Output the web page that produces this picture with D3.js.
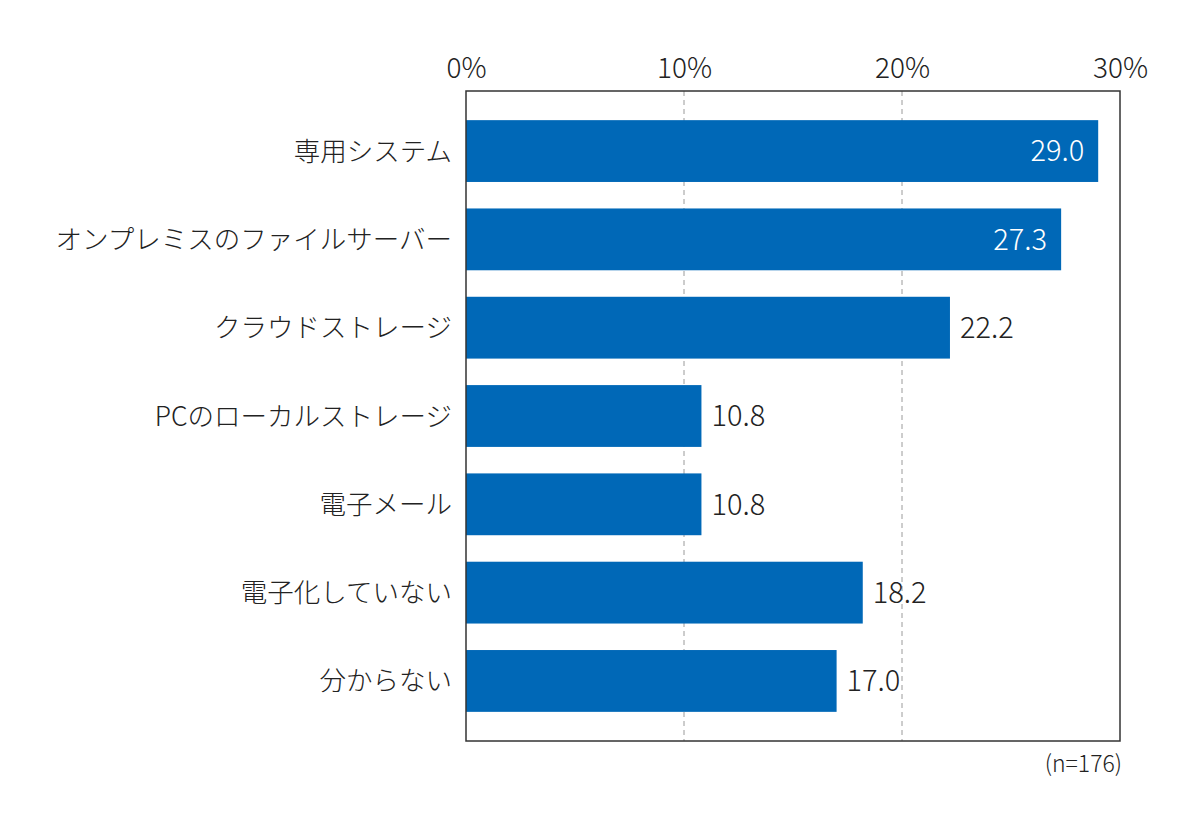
<!DOCTYPE html>
<html>
<head>
<meta charset="utf-8">
<script src="https://cdn.jsdelivr.net/npm/d3@7"></script>
<style>
  body { margin: 0; background: #fff; }
  svg text { font-family: "Noto Sans CJK JP", "Noto Sans", sans-serif; }
</style>
</head>
<body>
<svg id="chart" width="1200" height="830"></svg>
<script>
const categories = ['専用システム', 'オンプレミスのファイルサーバー', 'クラウドストレージ', 'PCのローカルストレージ', '電子メール', '電子化していない', '分からない'];
const values = [29.0, 27.3, 22.2, 10.8, 10.8, 18.2, 17.0];
const ticks = [0, 10, 20, 30];
const note = '(n=176)';

const svg = d3.select('#chart');
const margin = { top: 91, right: 80, bottom: 89, left: 466 };
const width = 1200 - margin.left - margin.right;
const height = 830 - margin.top - margin.bottom;
const barColor = '#0068b7';

const x = d3.scaleLinear().domain([0, 30]).range([0, width]);
const y = d3.scaleBand().domain(categories).range([0, height]).paddingInner(0.3).paddingOuter(0.33);

const g = svg.append('g').attr('transform', `translate(${margin.left},${margin.top})`);

// dashed grid lines
g.selectAll('line.grid')
  .data(ticks.filter(t => t > 0 && t < 30))
  .enter()
  .append('line')
  .attr('class', 'grid')
  .attr('x1', d => x(d))
  .attr('x2', d => x(d))
  .attr('y1', 0)
  .attr('y2', height)
  .attr('stroke', '#9a9a9a')
  .attr('stroke-width', 1)
  .attr('stroke-dasharray', '5,4');

// bars
g.selectAll('rect.bar')
  .data(values)
  .enter()
  .append('rect')
  .attr('class', 'bar')
  .attr('x', 0)
  .attr('y', (d, i) => y(categories[i]))
  .attr('width', d => x(d))
  .attr('height', y.bandwidth())
  .attr('fill', barColor);

// value labels, inside the bar when long enough
g.selectAll('text.value')
  .data(values)
  .enter()
  .append('text')
  .attr('class', 'value')
  .attr('x', d => (d > 25 ? x(d) - 14 : x(d) + 10))
  .attr('y', (d, i) => y(categories[i]) + y.bandwidth() / 2)
  .attr('dy', '0.36em')
  .attr('text-anchor', d => (d > 25 ? 'end' : 'start'))
  .attr('fill', d => (d > 25 ? '#fff' : '#222'))
  .style('font-size', '29px')
  .style('font-weight', 300)
  .text(d => d.toFixed(1));

// category labels
const yAxis = g.append('g').call(d3.axisLeft(y).tickSize(0).tickPadding(14));
yAxis.select('.domain').remove();
yAxis.selectAll('text')
  .attr('fill', '#222')
  .attr('dy', '0.36em')
  .style('font-size', '26.5px')
  .style('font-weight', 300)
  .style('font-family', '"Noto Sans CJK JP", sans-serif');

// top tick labels
const xAxis = g.append('g').call(d3.axisTop(x).tickValues(ticks).tickFormat(d => d + '%').tickSize(0).tickPadding(13));
xAxis.select('.domain').remove();
xAxis.selectAll('text')
  .attr('fill', '#222')
  .style('font-size', '28px')
  .style('font-weight', 300)
  .style('font-family', '"Noto Sans CJK JP", sans-serif');

// plot frame
g.append('rect')
  .attr('x', 0)
  .attr('y', 0)
  .attr('width', width)
  .attr('height', height)
  .attr('fill', 'none')
  .attr('stroke', '#333')
  .attr('stroke-width', 1.5);

// sample size note
g.append('text')
  .attr('x', width + 2)
  .attr('y', height + 31)
  .attr('text-anchor', 'end')
  .attr('fill', '#222')
  .style('font-size', '23px')
  .style('font-weight', 300)
  .text(note);
</script>
</body>
</html>
